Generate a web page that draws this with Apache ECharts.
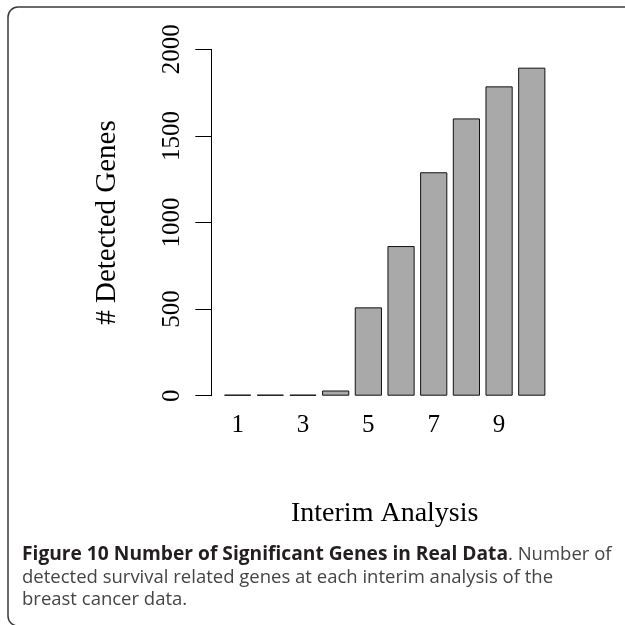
<!DOCTYPE html>
<html>
<head>
<meta charset="utf-8">
<script src="https://cdn.jsdelivr.net/npm/echarts@6/dist/echarts.min.js"></script>
<style>html,body{margin:0;padding:0;background:#fff;}#c{width:625px;height:625px;}</style>
</head>
<body>
<div id="c"></div>
<script>
const categories = ['1','2','3','4','5','6','7','8','9','10'];
const detectedGenes = [0, 0, 0, 30, 510, 864, 1290, 1601, 1786, 1894];
const yTicks = [0, 500, 1000, 1500, 2000];
const xTitle = 'Interim Analysis';
const yTitle = '# Detected Genes';
const captionBold = 'Figure 10 Number of Significant Genes in Real Data';
const captionLines = ['. Number of', 'detected survival related genes at each interim analysis of the', 'breast cancer data.'];

const chart = echarts.init(document.getElementById('c'), null, {renderer: 'canvas'});
const serif = 'Liberation Serif';
const sans = 'Open Sans';
const capSize = 18.5;
chart.setOption({
  animation: false,
  backgroundColor: '#fff',
  grid: {left: 221.3, top: 49.3, width: 326.8, height: 346.4},
  xAxis: {
    type: 'category',
    data: categories,
    axisLine: {show: false},
    axisTick: {show: false},
    axisLabel: {interval: 1, margin: 17, fontFamily: serif, fontSize: 25, color: '#000'},
    name: xTitle,
    nameLocation: 'middle',
    nameGap: 104,
    nameTextStyle: {fontFamily: serif, fontSize: 28, color: '#000'}
  },
  yAxis: {
    type: 'value',
    min: yTicks[0],
    max: yTicks[yTicks.length - 1],
    interval: 500,
    offset: 10,
    splitLine: {show: false},
    axisLine: {show: true, lineStyle: {color: '#000', width: 1}},
    axisTick: {show: true, length: 16, lineStyle: {color: '#000', width: 1}},
    axisLabel: {rotate: 90, margin: 26, fontFamily: serif, fontSize: 25, color: '#000', formatter: v => String(v)},
    name: yTitle,
    nameLocation: 'middle',
    nameRotate: 90,
    nameGap: 89,
    nameTextStyle: {fontFamily: serif, fontSize: 29, color: '#000'}
  },
  series: [{
    type: 'bar',
    data: detectedGenes,
    barWidth: 27.2,
    barMinHeight: 1,
    itemStyle: {color: '#a9a9a9', borderColor: '#111', borderWidth: 1}
  }],
  graphic: [
    {type: 'rect', shape: {x: 8, y: 7, width: 700, height: 619, r: 10}, style: {fill: 'none', stroke: '#3a3a3a', lineWidth: 1.5}, silent: true},
    {type: 'text', x: 22, y: 555, style: {
      text: '{b|' + captionBold + '}{r|' + captionLines[0] + '}',
      verticalAlign: 'middle',
      rich: {
        b: {fontFamily: sans, fontSize: 19.2, fontWeight: 'bold', fill: '#231f20'},
        r: {fontFamily: sans, fontSize: capSize, fill: '#444'}
      }
    }},
    {type: 'text', x: 22, y: 577.5, style: {text: captionLines[1], verticalAlign: 'middle', fontFamily: sans, fontSize: capSize, fill: '#444'}},
    {type: 'text', x: 22, y: 600, style: {text: captionLines[2], verticalAlign: 'middle', fontFamily: sans, fontSize: capSize, fill: '#444'}}
  ]
});
</script>
</body>
</html>
